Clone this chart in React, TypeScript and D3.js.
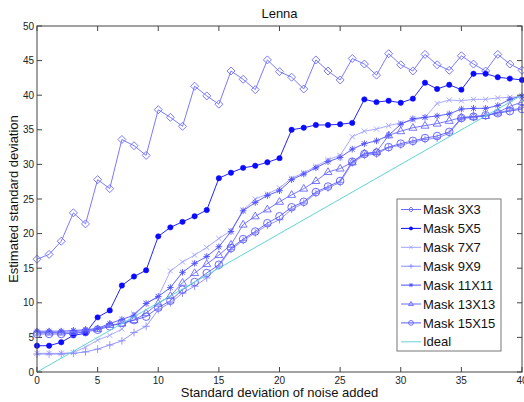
import React from "react";
import * as d3 from "d3";

const noiseLevels = [0,1,2,3,4,5,6,7,8,9,10,11,12,13,14,15,16,17,18,19,20,21,22,23,24,25,26,27,28,29,30,31,32,33,34,35,36,37,38,39,40];

const mask3 = [16.3,17.0,18.9,23.0,21.4,27.8,26.5,33.6,32.7,31.3,37.9,36.8,35.5,41.3,39.9,38.7,43.5,42.3,40.8,45.1,43.4,42.6,40.9,45.1,43.5,42.2,45.3,44.5,42.9,46.0,44.4,43.5,45.9,44.4,43.6,45.7,44.5,43.5,45.9,44.5,43.6];
const mask5 = [3.8,3.8,4.3,5.3,5.6,7.9,8.9,12.5,13.8,14.7,19.6,20.9,21.7,22.5,23.4,28.0,28.8,29.5,29.8,30.3,30.9,35.0,35.3,35.7,35.7,35.8,36.0,39.4,39.0,39.2,38.9,39.5,41.8,40.9,41.5,40.8,43.1,43.1,42.6,42.4,42.2];
const mask7 = [2.7,2.7,2.7,2.8,3.6,4.6,5.3,6.2,8.4,9.9,10.9,14.6,15.9,16.9,18.0,19.3,20.4,23.4,25.0,25.7,26.6,28.0,28.8,29.7,30.7,31.3,34.0,34.8,35.1,35.6,36.0,36.4,36.8,38.8,39.3,39.2,39.4,39.4,39.6,39.7,39.8];
const mask9 = [2.6,2.6,2.6,2.7,2.9,3.3,3.9,4.5,5.7,6.6,9.0,10.0,11.4,12.4,13.6,15.3,17.7,19.0,20.1,21.2,22.0,23.5,24.4,25.8,26.6,27.4,30.2,31.3,31.5,32.4,32.8,33.2,33.6,33.8,34.5,36.6,36.8,37.0,37.5,37.8,38.2];
const mask11 = [5.9,5.9,5.9,6.0,6.1,6.3,7.0,7.6,8.2,9.9,10.9,12.2,14.4,15.7,16.7,18.1,20.3,23.3,24.5,25.5,26.2,27.8,28.6,29.5,30.4,31.0,32.2,33.0,33.4,34.2,35.8,36.6,36.8,37.0,37.3,38.0,38.1,38.1,38.5,39.4,39.9];
const mask13 = [5.7,5.7,5.7,5.8,6.0,6.2,6.8,7.0,7.5,8.5,9.9,11.0,12.9,14.3,15.6,16.9,18.4,21.3,22.5,23.5,24.6,25.6,26.5,27.6,28.9,29.4,30.3,31.6,31.8,34.2,34.8,35.3,35.6,35.9,36.3,36.8,36.9,37.0,37.5,38.4,39.0];
const mask15 = [5.5,5.5,5.5,5.6,5.8,6.1,6.6,7.1,7.5,8.0,9.3,10.3,11.9,13.0,14.3,15.5,17.9,19.2,20.3,21.5,22.5,23.8,24.6,26.0,26.8,27.6,30.4,31.5,31.7,32.5,33.0,33.4,33.8,34.1,34.7,36.7,36.9,37.1,37.4,37.7,38.0];
const idealX = [0, 40];
const idealY = [0, 40];

const seriesNames = ["Mask 3X3","Mask 5X5","Mask 7X7","Mask 9X9","Mask 11X11","Mask 13X13","Mask 15X15","Ideal"];
const xTicks = [0,5,10,15,20,25,30,35,40];
const yTicks = [0,5,10,15,20,25,30,35,40,45,50];

type MarkerKind = "diamond" | "dot" | "x" | "plus" | "star" | "triangle" | "circle" | "none";

const seriesStyle: { values: number[]; color: string; marker: MarkerKind }[] = [
  { values: mask3, color: "#6b6bff", marker: "diamond" },
  { values: mask5, color: "#0a0aff", marker: "dot" },
  { values: mask7, color: "#a0a0ff", marker: "x" },
  { values: mask9, color: "#8a8aff", marker: "plus" },
  { values: mask11, color: "#4e4eff", marker: "star" },
  { values: mask13, color: "#6868ff", marker: "triangle" },
  { values: mask15, color: "#5a5aff", marker: "circle" },
];
const idealColor = "#62d4d4";

const W = 524, H = 402;
const left = 37, right = 522, top = 26, bottom = 372;
const font = "'Liberation Sans', Arial, sans-serif";

function Marker({ kind, x, y, color, s = 1 }: { kind: MarkerKind; x: number; y: number; color: string; s?: number }) {
  const sw = 0.9;
  switch (kind) {
    case "diamond": {
      const r = 4 * s;
      return <path d={`M${x},${y - r}L${x + r},${y}L${x},${y + r}L${x - r},${y}Z`} fill="none" stroke={color} strokeWidth={sw} />;
    }
    case "dot":
      return <circle cx={x} cy={y} r={2.7 * s} fill={color} stroke={color} strokeWidth={0.5} />;
    case "x": {
      const r = 2.6 * s;
      return <path d={`M${x - r},${y - r}L${x + r},${y + r}M${x - r},${y + r}L${x + r},${y - r}`} stroke={color} strokeWidth={sw} fill="none" />;
    }
    case "plus": {
      const r = 3.8 * s;
      return <path d={`M${x - r},${y}L${x + r},${y}M${x},${y - r}L${x},${y + r}`} stroke={color} strokeWidth={sw} fill="none" />;
    }
    case "star": {
      const r = 3.3 * s, d = r * 0.72;
      return <path d={`M${x - r},${y}L${x + r},${y}M${x},${y - r}L${x},${y + r}M${x - d},${y - d}L${x + d},${y + d}M${x - d},${y + d}L${x + d},${y - d}`} stroke={color} strokeWidth={sw} fill="none" />;
    }
    case "triangle": {
      const r = 4.2 * s;
      return <path d={`M${x},${y - r}L${x + r * 0.95},${y + r * 0.6}L${x - r * 0.95},${y + r * 0.6}Z`} fill="none" stroke={color} strokeWidth={sw} />;
    }
    case "circle":
      return <circle cx={x} cy={y} r={3.8 * s} fill="none" stroke={color} strokeWidth={sw} />;
    default:
      return null;
  }
}

export default function App() {
  const xScale = d3.scaleLinear().domain([0, 40]).range([left, right]);
  const yScale = d3.scaleLinear().domain([0, 50]).range([bottom, top]);
  const line = d3.line<[number, number]>().x(d => xScale(d[0])).y(d => yScale(d[1]));

  const legendLeft = 397, legendTop = 199, legendW = 104, legendH = 152;
  const rowY = (i: number) => 209.5 + i * 18.9;

  return (
    <svg width={W} height={H} style={{ position: "absolute", left: 0, top: 0, background: "#fff" }} fontFamily={font}>
      <rect x={0} y={0} width={W} height={H} fill="#fff" />
      {/* plot area */}
      <rect x={left} y={top} width={right - left} height={bottom - top} fill="#fff" />

      {/* series */}
      {seriesStyle.map((s, si) => {
        const pts: [number, number][] = noiseLevels.map((x, i) => [x, s.values[i]]);
        return (
          <g key={si}>
            <path d={line(pts) || ""} fill="none" stroke={s.color} strokeWidth={0.9} />
            {pts.map((p, i) => (
              <Marker key={i} kind={s.marker} x={xScale(p[0])} y={yScale(p[1])} color={s.color} />
            ))}
          </g>
        );
      })}
      <path d={line(idealX.map((x, i) => [x, idealY[i]] as [number, number])) || ""} fill="none" stroke={idealColor} strokeWidth={1} />

      {/* axes box */}
      <rect x={left} y={top} width={right - left} height={bottom - top} fill="none" stroke="#444" strokeWidth={1} />
      {xTicks.map(t => (
        <g key={"xt" + t}>
          <line x1={xScale(t)} x2={xScale(t)} y1={bottom} y2={bottom - 5} stroke="#444" />
          <line x1={xScale(t)} x2={xScale(t)} y1={top} y2={top + 5} stroke="#444" />
          <text x={xScale(t)} y={bottom + 12} fontSize={10} textAnchor="middle" fill="#222">{t}</text>
        </g>
      ))}
      {yTicks.map(t => (
        <g key={"yt" + t}>
          <line x1={left} x2={left + 5} y1={yScale(t)} y2={yScale(t)} stroke="#444" />
          <line x1={right} x2={right - 5} y1={yScale(t)} y2={yScale(t)} stroke="#444" />
          <text x={left - 3} y={yScale(t) + 3.5} fontSize={10} textAnchor="end" fill="#222">{t}</text>
        </g>
      ))}

      {/* labels */}
      <text x={(left + right) / 2} y={18} fontSize={13} textAnchor="middle" fill="#111">Lenna</text>
      <text x={(left + right) / 2} y={397} fontSize={13} textAnchor="middle" fill="#111">Standard deviation of noise added</text>
      <text transform={`translate(18,${(top + bottom) / 2}) rotate(-90)`} fontSize={13} textAnchor="middle" fill="#111">Estimated standard deviation</text>

      {/* legend */}
      <rect x={legendLeft} y={legendTop} width={legendW} height={legendH} fill="#fff" stroke="#777" strokeWidth={1} />
      {seriesNames.map((name, i) => {
        const y = rowY(i);
        const st = i < seriesStyle.length ? seriesStyle[i] : null;
        const color = st ? st.color : idealColor;
        return (
          <g key={name}>
            <line x1={401} x2={421} y1={y} y2={y} stroke={color} strokeWidth={1} />
            {st && <Marker kind={st.marker} x={411} y={y} color={color} s={0.62} />}
            <text x={423} y={y + 4.6} fontSize={13} fill="#111">{name}</text>
          </g>
        );
      })}
    </svg>
  );
}
